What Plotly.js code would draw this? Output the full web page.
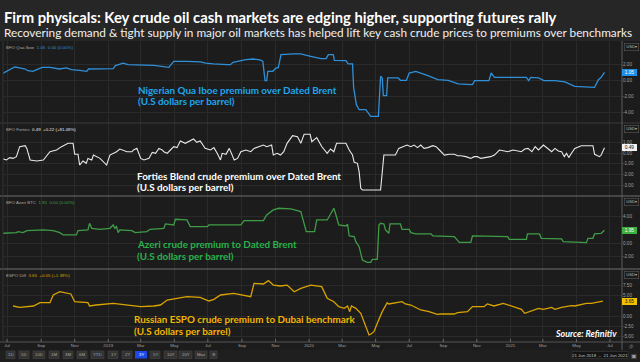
<!DOCTYPE html>
<html><head><meta charset="utf-8">
<script src="https://cdn.plot.ly/plotly-3.0.1.min.js"></script>
<style>html,body{margin:0;padding:0;background:#1c1c1c;}#chart{width:640px;height:362px;}</style>
</head><body><div id="chart"></div>
<script>
// ---------------- DATA ----------------
const quaDates = ["2018-06-21","2018-07-06","2018-07-15","2018-07-24","2018-08-03","2018-08-08","2018-08-17","2018-08-24","2018-09-03","2018-09-17","2018-09-26","2018-10-04","2018-10-17","2018-10-26","2018-11-10","2018-11-23","2018-11-26","2018-12-17","2019-01-10","2019-01-14","2019-01-28","2019-02-06","2019-03-01","2019-03-25","2019-04-21","2019-04-30","2019-05-24","2019-06-18","2019-06-27","2019-07-11","2019-08-06","2019-08-11","2019-08-16","2019-09-08","2019-09-22","2019-10-04","2019-10-09","2019-10-13","2019-10-16","2019-10-18","2019-10-27","2019-11-02","2019-11-06","2019-11-11","2019-12-04","2019-12-17","2020-01-04","2020-01-23","2020-02-01","2020-02-05","2020-02-14","2020-02-16","2020-03-08","2020-03-12","2020-03-20","2020-03-22","2020-03-27","2020-04-01","2020-04-13","2020-04-17","2020-04-22","2020-05-06","2020-05-10","2020-05-13","2020-05-15","2020-05-21","2020-05-23","2020-06-11","2020-06-15","2020-06-26","2020-07-01","2020-07-13","2020-07-22","2020-08-04","2020-08-22","2020-09-10","2020-09-28","2020-10-24","2020-10-28","2020-11-23","2020-11-27","2020-12-03","2021-01-30","2021-02-03","2021-02-07","2021-02-21","2021-03-03","2021-03-14","2021-03-23","2021-04-10","2021-04-28","2021-06-03","2021-06-10","2021-06-15","2021-06-21"];
const quaVals = [0.84,1.38,1.71,1.59,1.46,1.25,1.17,1.38,1.67,1.67,1.59,1.46,1.59,1.38,1.3,1.17,1.46,1.46,1.5,1.88,2.2,2.0,1.92,1.92,1.67,2.42,2.42,2.34,2.2,2.09,2.0,2.0,2.3,2.63,2.71,2.59,2.42,0.0,0.0,1.17,1.17,1.59,1.59,3.25,3.34,3.34,3.05,2.75,2.75,3.25,3.25,2.55,2.5,2.09,2.09,-0.83,-3.0,-3.63,-3.63,-4.04,-4.45,-4.45,0.55,0.34,-1.87,-1.87,0.34,0.34,0.05,0.05,0.96,1.17,0.96,0.63,0.13,0.05,-0.41,-0.5,0.0,0.0,0.96,0.42,0.42,0.0,0.42,0.34,0.0,0.05,0.0,-0.16,-0.7,-0.83,0.13,0.42,1.05];

const fortiesDates = ["2018-06-21","2018-06-30","2018-07-06","2018-07-12","2018-07-18","2018-07-24","2018-08-03","2018-08-06","2018-08-12","2018-08-24","2018-09-05","2018-09-17","2018-09-29","2018-10-08","2018-10-20","2018-10-29","2018-11-01","2018-11-07","2018-11-10","2018-11-16","2018-11-22","2018-11-25","2018-12-02","2018-12-05","2018-12-17","2018-12-23","2018-12-29","2019-01-04","2019-01-16","2019-01-22","2019-02-04","2019-02-13","2019-02-16","2019-02-22","2019-03-01","2019-03-07","2019-03-16","2019-03-22","2019-03-28","2019-04-03","2019-04-09","2019-04-12","2019-04-18","2019-04-24","2019-04-30","2019-05-06","2019-05-12","2019-05-21","2019-05-27","2019-06-05","2019-06-11","2019-06-17","2019-06-20","2019-06-26","2019-07-06","2019-07-12","2019-07-18","2019-07-24","2019-07-27","2019-08-03","2019-08-09","2019-08-15","2019-08-18","2019-08-24","2019-08-30","2019-09-08","2019-09-17","2019-09-23","2019-10-01","2019-10-10","2019-10-16","2019-10-25","2019-10-28","2019-11-04","2019-11-10","2019-11-16","2019-11-22","2019-12-02","2019-12-11","2019-12-17","2019-12-23","2020-01-03","2020-01-06","2020-01-15","2020-01-24","2020-02-03","2020-02-09","2020-02-15","2020-02-20","2020-03-08","2020-03-14","2020-03-20","2020-03-23","2020-03-29","2020-04-01","2020-04-04","2020-04-07","2020-05-10","2020-05-16","2020-06-06","2020-06-12","2020-06-21","2020-06-27","2020-07-04","2020-07-10","2020-07-16","2020-07-22","2020-07-28","2020-08-04","2020-08-13","2020-08-19","2020-08-25","2020-09-03","2020-09-12","2020-09-21","2020-09-27","2020-10-03","2020-10-12","2020-10-21","2020-10-27","2020-11-02","2020-11-08","2020-11-17","2020-11-26","2020-12-03","2020-12-12","2020-12-21","2020-12-27","2021-01-06","2021-01-15","2021-01-21","2021-01-27","2021-02-02","2021-02-09","2021-02-15","2021-02-21","2021-03-02","2021-03-11","2021-03-17","2021-03-23","2021-03-29","2021-04-04","2021-04-09","2021-04-13","2021-04-17","2021-04-22","2021-04-28","2021-05-10","2021-05-31","2021-06-03","2021-06-12","2021-06-15","2021-06-21"];
const fortiesVals = [-0.50,-0.65,-0.43,-0.50,-0.34,0.59,0.68,0.43,-0.65,-0.74,-0.65,0.12,0.28,0.59,0.90,0.90,-0.12,-0.12,-1.12,-0.74,-0.96,-0.50,-0.65,-0.19,-0.50,-0.81,-1.12,-0.19,0.12,0.37,0.12,0.12,0.28,0.43,-0.50,-0.65,-0.50,0.06,-0.03,0.43,0.28,0.12,-0.03,0.28,0.59,0.50,1.12,0.90,1.05,1.30,0.99,1.12,0.90,0.43,0.28,0.50,-0.03,-0.65,-0.03,-0.12,0.43,-0.34,-0.65,-0.50,0.12,0.28,0.12,0.43,0.59,0.74,0.59,0.74,-0.19,-0.03,-0.19,0.12,0.90,1.61,1.52,0.90,1.74,1.74,1.05,1.43,0.60,-0.03,0.37,0.12,0.90,0.90,0.28,-0.19,-0.87,-0.96,-1.74,-3.29,-3.44,-3.44,-0.19,-0.19,0.43,0.59,0.74,0.59,0.74,0.50,0.74,0.43,0.50,0.68,0.59,0.28,-0.19,-0.12,-0.12,-0.25,-0.25,-0.34,-0.50,-0.34,-0.34,-0.50,-0.43,-0.34,-0.19,0.28,0.19,0.12,0.28,0.19,0.12,0.37,0.43,0.12,0.59,0.28,0.74,0.37,0.12,0.43,0.19,0.12,-0.34,-0.03,-0.43,-0.03,0.43,0.68,0.68,-0.12,-0.34,-0.19,0.49];

const azeriDates = ["2018-06-21","2018-07-18","2018-07-21","2018-07-30","2018-08-06","2018-09-05","2018-09-23","2018-10-05","2018-10-11","2018-11-04","2018-11-07","2018-11-25","2018-11-28","2018-12-02","2018-12-17","2019-01-04","2019-01-10","2019-01-13","2019-01-16","2019-01-19","2019-01-22","2019-02-13","2019-02-19","2019-03-12","2019-03-18","2019-04-12","2019-04-15","2019-04-30","2019-05-03","2019-05-24","2019-05-30","2019-06-30","2019-07-03","2019-08-30","2019-09-05","2019-10-10","2019-10-16","2019-10-28","2019-11-07","2019-11-29","2019-12-17","2019-12-23","2019-12-27","2020-01-11","2020-01-15","2020-02-03","2020-02-12","2020-02-15","2020-02-18","2020-02-24","2020-03-08","2020-03-11","2020-03-14","2020-03-23","2020-03-26","2020-04-01","2020-04-04","2020-04-07","2020-04-16","2020-04-22","2020-04-25","2020-05-04","2020-05-07","2020-05-10","2020-05-16","2020-05-19","2020-05-25","2020-05-27","2020-06-15","2020-06-18","2020-07-01","2020-07-04","2020-07-13","2020-08-10","2020-08-13","2020-09-21","2020-09-30","2020-10-21","2020-10-24","2020-12-27","2020-12-30","2021-01-30","2021-02-01","2021-02-23","2021-02-26","2021-04-04","2021-04-07","2021-05-19","2021-05-22","2021-05-31","2021-06-03","2021-06-15","2021-06-21"];
const azeriVals = [1.5,1.6,1.75,1.6,1.9,2.0,1.9,1.6,1.25,1.25,1.9,2.0,3.0,2.25,2.1,2.25,2.75,2.25,2.5,1.6,2.0,1.9,1.6,1.75,2.1,2.25,2.9,2.75,3.6,3.5,2.5,2.5,2.75,2.75,3.4,3.4,4.25,5.0,5.25,5.15,4.75,3.0,1.75,1.75,3.5,3.5,4.75,5.25,4.5,2.75,2.6,2.85,1.1,1.0,0.25,-0.5,-1.5,-2.5,-2.85,-2.85,-2.4,-2.4,2.75,3.0,2.9,2.0,1.5,2.9,2.9,2.1,2.1,1.6,1.4,1.4,1.1,1.0,0.15,0.15,1.1,1.0,0.6,0.6,1.4,1.4,0.75,0.65,0.25,0.1,0.75,0.75,1.4,1.5,1.95];

const espoDates = ["2018-07-12","2018-07-24","2018-08-18","2018-08-30","2018-09-17","2018-09-23","2018-10-05","2018-10-16","2018-10-25","2018-11-01","2018-11-25","2018-11-28","2018-12-10","2019-01-10","2019-02-04","2019-03-01","2019-03-25","2019-04-06","2019-04-18","2019-05-06","2019-05-24","2019-06-17","2019-07-03","2019-07-12","2019-07-24","2019-08-17","2019-09-02","2019-09-17","2019-09-23","2019-10-10","2019-10-19","2019-10-28","2019-11-10","2019-11-22","2019-12-05","2019-12-17","2020-01-04","2020-01-24","2020-02-03","2020-02-15","2020-02-24","2020-03-05","2020-03-11","2020-03-15","2020-03-18","2020-03-26","2020-04-04","2020-04-19","2020-04-22","2020-04-28","2020-05-04","2020-05-13","2020-05-22","2020-05-25","2020-06-18","2020-06-24","2020-07-04","2020-07-22","2020-08-06","2020-08-21","2020-08-27","2020-09-21","2020-09-27","2020-10-15","2020-10-24","2020-11-14","2020-11-20","2020-12-02","2020-12-19","2021-01-03","2021-01-21","2021-01-27","2021-02-05","2021-02-21","2021-03-02","2021-03-17","2021-03-23","2021-04-04","2021-04-22","2021-04-28","2021-05-19","2021-05-28","2021-06-18"];
const espoVals = [2.46,2.13,2.46,3.28,3.28,5.16,5.98,5.74,5.41,3.52,3.28,2.46,2.7,3.11,2.7,2.3,2.46,2.7,3.93,4.34,4.75,4.59,3.69,4.1,5.16,5.57,5.16,4.75,8.03,7.87,8.7,7.6,7.37,7.6,5.97,6.8,7.6,7.2,4.34,3.52,2.3,1.89,2.46,1.07,2.46,1.89,0.66,-4.67,-4.5,-3.85,-1.8,1.07,3.28,2.95,3.52,2.95,2.7,1.48,1.07,0.41,0.49,0.49,0.82,1.07,2.3,2.3,2.95,2.46,3.11,2.46,1.64,0.66,1.07,1.89,1.64,2.13,1.64,2.13,2.54,2.46,3.11,3.11,3.65];

const xTickVals = ["2018-07-01","2018-09-01","2018-11-01","2019-01-01","2019-03-01","2019-05-01","2019-07-01","2019-09-01","2019-11-01","2020-01-01","2020-03-01","2020-05-01","2020-07-01","2020-09-01","2020-11-01","2021-01-01","2021-03-01","2021-05-01","2021-07-01"];
const xTickText = ["Jul","Sep","Nov","2019","Mar","May","Jul","Sep","Nov","2020","Mar","May","Jul","Sep","Nov","2021","Mar","May","Jul"];

const quaTicks = [-4,-2,0,2];
const fortiesTicks = [-3,-2,-1,0,1];
const azeriTicks = [-2,0,4];
const espoTicks = [-5,-2.5,0,5,7.5];

const seriesNames = ["BFO Qua Iboe","BFO Forties","BFO Azeri BTC","ESPO Diff"];
const seriesChanges = ["0.00 (0.00%)","+0.22 (+81.48%)","0.00 (0.00%)","+0.05 (+1.39%)"];
const panelTitles = ["Nigerian Qua Iboe premium over Dated Brent","Forties Blend crude premium over Dated Brent","Azeri crude premium to Dated Brent","Russian ESPO crude premium to Dubai benchmark"];
const unitText = "(U.S dollars per barrel)";
const rangeButtons = ["1D","5D","10D","1M","3M","6M","YTD","1Y","2Y","3Y","5Y","10Y","20Y","Max","\u2699"];

// ---------------- LAYOUT HELPERS ----------------
const L = 3, R = 622, T = 41, B = 342;
const px = x => (x - L) / (R - L);
const py = y => (B - y) / (B - T);
const NB = "\u00a0";

const lineCols = ["#2f8fd8", "#e8e8e8", "#3f9c46", "#d9a300"];
const textCols = ["#1ea6ee", "#ffffff", "#27b24c", "#f2b600"];
const boxCols = ["#1e90e6", "#f2f2f2", "#3cb043", "#f2c200"];
const boxText = ["#ffffff", "#111111", "#ffffff", "#111111"];
const SMALL = "Liberation Sans, Arial, sans-serif";

const tickFmt = v => v.toFixed(2);
const yFont = {family: SMALL, size: 4.6, color: "#a0a0a0"};
const xFont = {family: SMALL, size: 4.4, color: "#a0a0a0"};

function yAx(domain, range, ticks) {
  return {domain: domain, range: range, side: "right", anchor: "x",
    tickvals: ticks, ticktext: ticks.map(tickFmt), tickfont: yFont,
    showgrid: true, gridcolor: "#2a2a2a", gridwidth: 1, zeroline: false,
    showline: false, ticks: "", fixedrange: true};
}

const series = [
  [quaDates, quaVals, "y"], [fortiesDates, fortiesVals, "y2"],
  [azeriDates, azeriVals, "y3"], [espoDates, espoVals, "y4"]
];
const traces = series.map((s, i) => ({
  x: s[0], y: s[1], xaxis: "x", yaxis: s[2], type: "scatter", mode: "lines",
  line: {color: lineCols[i], width: i === 1 ? 1.1 : 1.3}, hoverinfo: "skip", showlegend: false
}));

const annotations = [];
const shapes = [];
function txt(text, x, y, size, color, fam) {
  annotations.push({text: text, xref: "paper", yref: "paper", x: px(x), y: py(y),
    xanchor: "left", yanchor: "middle", showarrow: false, borderpad: 0, borderwidth: 0,
    font: {family: fam || "Lato, 'Open Sans', sans-serif", size: size, color: color}});
}
function rect(x0, y0, x1, y1, fill, line, layer) {
  shapes.push({type: "rect", xref: "paper", yref: "paper", x0: px(x0), x1: px(x1), y0: py(y0), y1: py(y1),
    fillcolor: fill, line: {color: line || "rgba(0,0,0,0)", width: line ? 0.6 : 0}, layer: layer || "above"});
}
function hline(y, x0, x1, color, w) {
  shapes.push({type: "line", xref: "paper", yref: "paper", x0: px(x0), x1: px(x1), y0: py(y), y1: py(y),
    line: {color: color, width: w || 1}, layer: "above"});
}
function vline(x, y0, y1, color, w) {
  shapes.push({type: "line", xref: "paper", yref: "paper", x0: px(x), x1: px(x), y0: py(y0), y1: py(y1),
    line: {color: color, width: w || 1}, layer: "above"});
}

// header and bottom bar backgrounds
rect(0, 0, 640, T, "#262626", null, "below");
rect(0, 350, 640, 362, "#1f1f1f", null, "below");

// title & subtitle
txt("<b>Firm physicals: Key crude oil cash markets are edging higher, supporting futures rally</b>", 4, 16.5, 14.8, "#ffffff");
txt("Recovering demand &amp; tight supply in major oil markets has helped lift key cash crude prices to premiums over benchmarks", 4, 32.5, 11.8, "#f0f0f0");

// separators and frame
hline(123, 0, 640, "#3a3a3a", 1);
hline(196, 0, 640, "#6e6e6e", 1);
hline(269, 0, 640, "#6e6e6e", 1);
hline(342, 0, 640, "#555555", 1);
vline(R, T, 350, "#5a5a5a", 1);
vline(L, T, 342, "#333333", 1);

// x tick marks
xTickVals.forEach(v => shapes.push({type: "line", xref: "x", yref: "paper", x0: v, x1: v,
  y0: py(342), y1: py(339), line: {color: "#777777", width: 0.8}, layer: "above"}));

// panel labels, titles, value boxes, USD boxes
const panelTop = [T, 123, 196, 269];
const titleY = [[89.7, 100.9], [175.7, 187.2], [244.0, 255.7], [319.2, 331.4]];
const titleX = [137.5, 137, 137, 134];
const allVals = [quaVals, fortiesVals, azeriVals, espoVals];
const yrefs = ["y", "y2", "y3", "y4"];
for (let i = 0; i < 4; i++) {
  const last = allVals[i][allVals[i].length - 1];
  txt(seriesNames[i] + NB + NB + "<span style='color:" + lineCols[i] + "'>" + last.toFixed(2) + NB + NB + seriesChanges[i] + "</span>",
    6, panelTop[i] + 6, 4.4, "#a8a8a8", SMALL);
  txt("<b>" + panelTitles[i] + "</b>", titleX[i], titleY[i][0], 9.85, textCols[i]);
  txt("<b>" + unitText + "</b>", titleX[i], titleY[i][1], 9.85, textCols[i]);
  annotations.push({text: last.toFixed(2), xref: "paper", yref: yrefs[i], x: px(629.5), y: last,
    xanchor: "center", yanchor: "middle", showarrow: false, bgcolor: boxCols[i], borderpad: 0.5, borderwidth: 0,
    width: 14, height: 6, font: {family: SMALL, size: 4.8, color: boxText[i]}});
  annotations.push({text: "USD\u25BE", xref: "paper", yref: "paper", x: px(631), y: py(panelTop[i] + 6),
    xanchor: "center", yanchor: "middle", showarrow: false, bgcolor: "#1c1c1c", bordercolor: "#5a5a5a",
    borderwidth: 0.6, borderpad: 0.5, width: 13, height: 5.5,
    font: {family: SMALL, size: 4.2, color: "#b8b8b8"}});
}

// source
txt("<b><i>Source: Refinitiv</i></b>", 555, 333.5, 8.9, "#ffffff");

// range buttons
const btnX = [[6,15],[19,29],[33,45],[49,59],[63,73],[77,87],[91,104],[108,118],[122,132],[135,147],[150,160],[164,177],[179,192],[195,207],[210,217]];
rangeButtons.forEach((b, i) => {
  const sel = b === "3Y";
  rect(btnX[i][0], 351, btnX[i][1], 358.5, sel ? "#1d48e6" : "#333333", sel ? null : "#444444");
  annotations.push({text: b, xref: "paper", yref: "paper", x: px((btnX[i][0] + btnX[i][1]) / 2), y: py(354.8),
    xanchor: "center", yanchor: "middle", showarrow: false, borderwidth: 0, borderpad: 0,
    font: {family: SMALL, size: 4.3, color: sel ? "#ffffff" : "#a8a8a8"}});
});

// date range box and icons
rect(572, 351.5, 628, 358.5, "#141414", "#3a3a3a");
annotations.push({text: "21 Jun 2018" + NB + NB + "\u2013" + NB + NB + "21 Jun 2021", xref: "paper", yref: "paper",
  x: px(600), y: py(355), xanchor: "center", yanchor: "middle", showarrow: false, borderwidth: 0, borderpad: 0,
  font: {family: SMALL, size: 4.4, color: "#c0c0c0"}});
annotations.push({text: "\u25A3", xref: "paper", yref: "paper", x: px(633.5), y: py(355), xanchor: "center", yanchor: "middle",
  showarrow: false, borderwidth: 0, font: {family: "DejaVu Sans", size: 6, color: "#a0a0a0"}});
annotations.push({text: "\u263C", xref: "paper", yref: "paper", x: px(631), y: py(346.5), xanchor: "center", yanchor: "middle",
  showarrow: false, borderwidth: 0, font: {family: "DejaVu Sans", size: 7, color: "#909090"}});

const layout = {
  width: 640, height: 362,
  margin: {l: L, r: 640 - R, t: T, b: 362 - B, pad: 0},
  paper_bgcolor: "#1c1c1c", plot_bgcolor: "rgba(0,0,0,0)",
  showlegend: false,
  xaxis: {domain: [0, 1], anchor: "y4", type: "date", range: ["2018-06-23 16:00", "2021-07-22 20:00"],
    tickvals: xTickVals, ticktext: xTickText, tickfont: xFont, ticks: "", showline: false,
    showgrid: true, gridcolor: "#2a2a2a", gridwidth: 1, zeroline: false, fixedrange: true},
  yaxis: yAx([py(123), 1], [-5.29, 4.96], quaTicks),
  yaxis2: yAx([py(196), py(123)], [-4.0, 2.79], fortiesTicks),
  yaxis3: yAx([py(269), py(196)], [-3.85, 7.09], azeriTicks),
  yaxis4: yAx([0, py(269)], [-6.39, 11.55], espoTicks),
  annotations: annotations,
  shapes: shapes
};

Plotly.newPlot("chart", traces, layout, {displayModeBar: false, staticPlot: true});
</script>
</body></html>
